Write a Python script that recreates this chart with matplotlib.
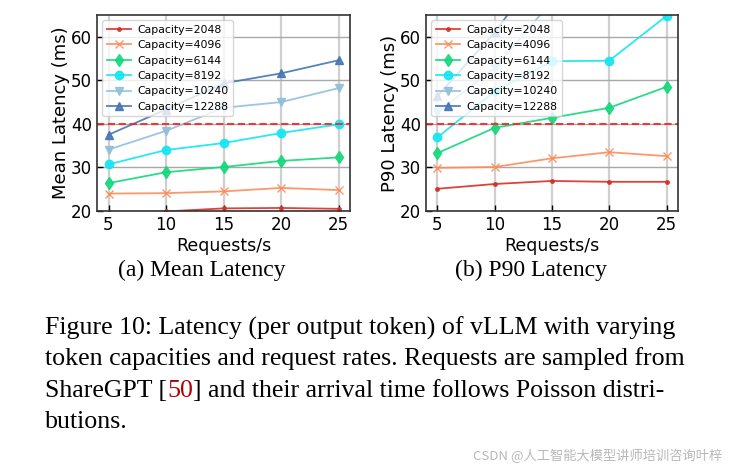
import matplotlib
matplotlib.use("Agg")
import matplotlib.pyplot as plt

rates = [5, 10, 15, 20, 25]
capacities = ["2048", "4096", "6144", "8192", "10240", "12288"]

mean_2048 = [19.5, 19.9, 20.6, 20.7, 20.5]
mean_4096 = [24.0, 24.1, 24.5, 25.3, 24.8]
mean_6144 = [26.4, 28.9, 30.1, 31.5, 32.3]
mean_8192 = [30.7, 34.0, 35.6, 37.9, 39.9]
mean_10240 = [34.1, 38.4, 43.7, 45.0, 48.2]
mean_12288 = [37.5, 43.3, 49.3, 51.6, 54.6]

p90_2048 = [25.1, 26.2, 26.9, 26.7, 26.7]
p90_4096 = [29.9, 30.1, 32.1, 33.5, 32.6]
p90_6144 = [33.3, 39.1, 41.4, 43.7, 48.5]
p90_8192 = [36.9, 47.5, 54.4, 54.5, 64.8]
p90_10240 = [42.7, 52.8, 68.2, 74.0, 80.0]
p90_12288 = [46.4, 61.0, 79.0, 88.0, 95.0]

mean_series = [mean_2048, mean_4096, mean_6144, mean_8192, mean_10240, mean_12288]
p90_series = [p90_2048, p90_4096, p90_6144, p90_8192, p90_10240, p90_12288]

colors = ["#d73027", "#fc8d59", "#14d87c", "#12e6f2", "#91bfdb", "#4575b4"]
markers = [".", "x", "d", "o", "v", "^"]
msizes = [5, 6, 6, 6, 6, 6]

fig = plt.figure(figsize=(7.34, 4.70), dpi=100)
W, H = 734, 470

def add_ax(x0, x1, y0, y1):
    return fig.add_axes([x0 / W, 1 - y1 / H, (x1 - x0) / W, (y1 - y0) / H])

ax1 = add_ax(97, 350, 15, 211)
ax2 = add_ax(426, 678, 15, 211)

for ax, series, ylabel in [(ax1, mean_series, "Mean Latency (ms)"),
                           (ax2, p90_series, "P90 Latency (ms)")]:
    for vals, cap, c, m, ms in zip(series, capacities, colors, markers, msizes):
        ax.plot(rates, vals, color=c, marker=m, markersize=ms, lw=1.3,
                alpha=0.9, label=f"Capacity={cap}")
    ax.axhline(40, color="#ff2222", ls="--", lw=1.3, dashes=(4, 2))
    ax.set_xlim(4, 26)
    ax.set_ylim(20, 65)
    ax.set_xticks(rates)
    ax.set_yticks([20, 30, 40, 50, 60])
    ax.xaxis.grid(True, color="#cfcfcf", lw=1.6)
    ax.yaxis.grid(True, color="#a8a8a8", lw=1.0)
    ax.set_axisbelow(True)
    ax.tick_params(direction="in", labelsize=12, length=4, width=1)
    for s in ax.spines.values():
        s.set_color("#333333")
        s.set_linewidth(1.2)
    ax.set_xlabel("Requests/s", fontsize=12.5, labelpad=2)
    ax.set_ylabel(ylabel, fontsize=13, labelpad=1)
    ax.legend(loc="upper left", fontsize=7.8, framealpha=0.8,
              borderpad=0.4, labelspacing=0.5, handlelength=2.2,
              handletextpad=0.6, bbox_to_anchor=(0.0, 1.0))

serif = ["Liberation Serif", "DejaVu Serif"]
fig.text(202 / W, 1 - 270 / H, "(a) Mean Latency", ha="center", va="center",
         fontsize=17, family=serif)
fig.text(531 / W, 1 - 270 / H, "(b) P90 Latency", ha="center", va="center",
         fontsize=17, family=serif)

cap_lines = [
    "Figure 10: Latency (per output token) of vLLM with varying",
    "token capacities and request rates. Requests are sampled from",
    "ShareGPT [50] and their arrival time follows Poisson distri-",
    "butions.",
]
ys = [328, 359, 391, 422]
fs = 18.6
for line, y in zip(cap_lines, ys):
    if "[50]" in line:
        pre, post = line.split("[50]")
        t = fig.text(45 / W, 1 - y / H, pre + "[", ha="left", va="center",
                     fontsize=fs, family=serif)
        fig.canvas.draw()
        bb = t.get_window_extent()
        t2 = fig.text(bb.x1 / W, 1 - y / H, "50", ha="left", va="center",
                      fontsize=fs, family=serif, color="#b00000")
        bb2 = t2.get_window_extent(renderer=fig.canvas.get_renderer())
        fig.text(bb2.x1 / W, 1 - y / H, "]" + post, ha="left", va="center",
                 fontsize=fs, family=serif)
    else:
        fig.text(45 / W, 1 - y / H, line, ha="left", va="center",
                 fontsize=fs, family=serif)

fig.text(722 / W, 1 - 456 / H, "CSDN @人工智能大模型讲师培训咨询叶梓",
         ha="right", va="center", fontsize=9.5, color="#b8b8b8",
         family=["Noto Sans CJK SC", "DejaVu Sans"])

fig.savefig("out.png", dpi=100)
